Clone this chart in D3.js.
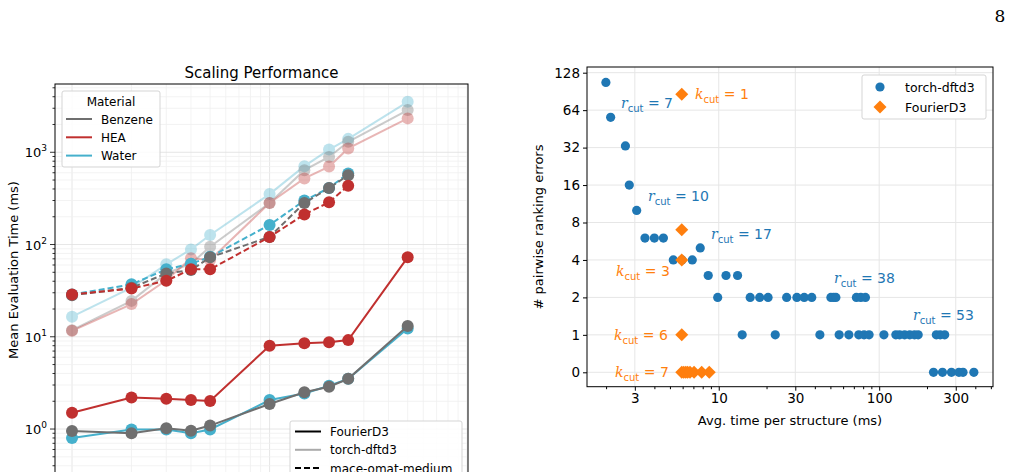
<!DOCTYPE html>
<html><head><meta charset="utf-8">
<script src="https://cdn.jsdelivr.net/npm/d3@7"></script>
<style>body{margin:0;background:#fff}text{font-family:"DejaVu Sans",sans-serif}</style>
</head><body><div id="chart"></div>
<script>
// ---- left chart data ----
var sizes = [1, 2, 3, 4, 5, 10, 15, 20, 25, 50];
var materials = ["Benzene", "HEA", "Water"];
var matColor = {Benzene: "#6f6f6f", HEA: "#c0302f", Water: "#45b0cc"};
var fourierBenzene = [0.95, 0.90, 1.02, 0.96, 1.09, 1.87, 2.5, 2.87, 3.5, 13.1];
var fourierHEA = [1.50, 2.20, 2.13, 2.06, 2.01, 8.0, 8.5, 8.7, 9.2, 72.6];
var fourierWater = [0.80, 0.99, 0.99, 0.90, 0.99, 2.06, 2.43, 2.95, 3.5, 12.3];
var torchBenzene = [11.8, 24.5, 48.6, 62, 94.5, 282, 640, 890, 1300, 2870];
var torchHEA = [11.6, 22.6, 41, 71, 68, 282, 520, 700, 1100, 2330];
var torchWater = [16.5, 34, 61, 88.5, 127, 352, 707, 1070, 1397, 3520];
var maceBenzene = [28.2, 33.9, 48.6, 52.8, 72.6, 121, 282, 410, 564];
var maceHEA = [28.8, 33.3, 40.5, 53.8, 53.8, 121, 212, 287, 434];
var maceWater = [28.8, 37, 53.8, 62, 73.5, 163, 300, 410, 590];

// ---- right chart data ----
var torchTime = [1.98, 2.12, 2.62, 2.77, 3.08, 3.47, 3.97, 4.52, 5.21, 5.9, 6.84, 7.67, 8.6, 11.1, 13.1,
  9.85, 15.7, 18.0, 20.3, 26.5, 30.7, 34.1, 38.0, 50.0, 52, 53.7, 72.1, 76.8, 82.1,
  14.0, 22.5, 42.7, 56.3, 64.7, 74.6, 80.5, 86.5, 107, 127, 134, 144, 155, 166, 175, 227, 240, 256,
  218, 248, 282, 314, 333, 389];
var torchErr = [107, 56, 33, 16, 10, 6, 6, 6, 4, 4, 4, 5, 3, 3, 3,
  2, 2, 2, 2, 2, 2, 2, 2, 2, 2, 2, 2, 2, 2,
  1, 1, 1, 1, 1, 1, 1, 1, 1, 1, 1, 1, 1, 1, 1, 1, 1, 1,
  0, 0, 0, 0, 0, 0];
var fourierTime = [5.88, 5.88, 5.88, 5.88, 5.88, 6.05, 6.23, 6.4, 6.62, 7.02, 7.83, 8.73];
var fourierErr = [86, 7, 4, 1, 0, 0, 0, 0, 0, 0, 0, 0];
var errTicks = [0, 1, 2, 4, 8, 16, 32, 64, 128];
var timeTicks = [3, 10, 30, 100, 300];

var W = 1014, H = 472;
var svg = d3.select("#chart").append("svg").attr("width", W).attr("height", H);

svg.append("text").attr("x", 1000).attr("y", 22).attr("text-anchor", "middle")
  .style("font-family", "DejaVu Serif, serif").style("font-size", "17px").text("8");

// ================= LEFT =================
var L = {l: 55, r: 468, t: 84, b: 560};
var xl = d3.scaleLog().domain([0.82, 101]).range([L.l, L.r]);
var yl = d3.scaleLog().domain([Math.pow(10, -0.7), Math.pow(10, 3.74)]).range([429 + 0.7 * 92.3, L.t]);
var gl = svg.append("g");
gl.append("defs").append("clipPath").attr("id", "cl").append("rect")
  .attr("x", L.l).attr("y", L.t).attr("width", L.r - L.l).attr("height", 500);

// grid
var xg = [];
[1, 10].forEach(function (d) { for (var k = 1; k < 10; k++) xg.push(d * k); });
xg.push(100);
gl.selectAll(".xg").data(xg).enter().append("line")
  .attr("x1", xl).attr("x2", xl).attr("y1", L.t).attr("y2", H)
  .attr("stroke", function (d) { return [1, 10, 100].indexOf(d) >= 0 ? "#e0e0e0" : "#f0f0f0"; }).attr("stroke-width", 0.8);
var yg = [];
[0.1, 1, 10, 100, 1000].forEach(function (d) { for (var k = 1; k < 10; k++) yg.push(d * k); });
yg = yg.filter(function (d) { return yl(d) >= L.t && yl(d) <= H; });
gl.selectAll(".yg").data(yg).enter().append("line")
  .attr("x1", L.l).attr("x2", L.r).attr("y1", yl).attr("y2", yl)
  .attr("stroke", function (d) { return [1, 10, 100, 1000].indexOf(d) >= 0 ? "#e0e0e0" : "#f0f0f0"; }).attr("stroke-width", 0.8);
gl.selectAll(".yt").data(yg).enter().append("line")
  .attr("x1", L.l).attr("x2", function (d) { return L.l - ([1, 10, 100, 1000].indexOf(d) >= 0 ? 5 : 2.5); })
  .attr("y1", yl).attr("y2", yl).attr("stroke", "#000").attr("stroke-width", 0.8);
[1, 10, 100, 1000].forEach(function (d, i) {
  var t = gl.append("text").attr("x", L.l - 8).attr("y", yl(d) + 5).attr("text-anchor", "end").style("font-size", "13px");
  t.append("tspan").text("10");
  t.append("tspan").attr("dy", -6).style("font-size", "9px").text(i);
});
gl.append("rect").attr("x", L.l).attr("y", L.t).attr("width", L.r - L.l).attr("height", 500)
  .attr("fill", "none").attr("stroke", "#000").attr("stroke-width", 1);

var line = d3.line().x(function (d) { return xl(d[0]); }).y(function (d) { return yl(d[1]); });
function series(vals, color, opacity, dash) {
  var pts = vals.map(function (v, i) { return [sizes[i], v]; });
  var g = gl.append("g").attr("clip-path", "url(#cl)").attr("opacity", opacity);
  g.append("path").datum(pts).attr("d", line).attr("fill", "none").attr("stroke", color)
    .attr("stroke-width", 2).attr("stroke-dasharray", dash || null);
  g.selectAll("circle").data(pts).enter().append("circle")
    .attr("cx", function (d) { return xl(d[0]); }).attr("cy", function (d) { return yl(d[1]); })
    .attr("r", 6).attr("fill", color);
}
series(torchWater, matColor.Water, 0.35);
series(torchBenzene, matColor.Benzene, 0.35);
series(torchHEA, matColor.HEA, 0.35);
series(maceWater, matColor.Water, 1, "6,3");
series(maceBenzene, matColor.Benzene, 1, "6,3");
series(maceHEA, matColor.HEA, 1, "6,3");
series(fourierHEA, matColor.HEA, 1);
series(fourierWater, matColor.Water, 1);
series(fourierBenzene, matColor.Benzene, 1);

gl.append("text").attr("x", (L.l + L.r) / 2).attr("y", 78).attr("text-anchor", "middle")
  .style("font-size", "15px").text("Scaling Performance");
gl.append("text").attr("transform", "translate(18,270) rotate(-90)").attr("text-anchor", "middle")
  .style("font-size", "13px").text("Mean Evaluation Time (ms)");

// legend: material
var lg1 = gl.append("g");
lg1.append("rect").attr("x", 62).attr("y", 91).attr("width", 98).attr("height", 76).attr("rx", 2)
  .attr("fill", "#fff").attr("fill-opacity", 0.85).attr("stroke", "#d5d5d5");
lg1.append("text").attr("x", 111).attr("y", 106).attr("text-anchor", "middle").style("font-size", "12px").text("Material");
materials.forEach(function (m, i) {
  var y = 119 + i * 18.3;
  lg1.append("line").attr("x1", 66).attr("x2", 92).attr("y1", y).attr("y2", y).attr("stroke", matColor[m]).attr("stroke-width", 2);
  lg1.append("text").attr("x", 101).attr("y", y + 4.5).style("font-size", "12px").text(m);
});
// legend: method
var methods = ["FourierD3", "torch-dftd3", "mace-omat-medium"];
var lg2 = gl.append("g");
lg2.append("rect").attr("x", 290).attr("y", 421).attr("width", 172).attr("height", 70).attr("rx", 2)
  .attr("fill", "#fff").attr("fill-opacity", 0.85).attr("stroke", "#d5d5d5");
methods.forEach(function (m, i) {
  var y = 431.5 + i * 18.3;
  lg2.append("line").attr("x1", 295).attr("x2", 321).attr("y1", y).attr("y2", y)
    .attr("stroke", i === 1 ? "#aaa" : "#000").attr("stroke-width", 2).attr("stroke-dasharray", i === 2 ? "6,3" : null);
  lg2.append("text").attr("x", 330).attr("y", y + 4.5).style("font-size", "12px").text(m);
});

// ================= RIGHT =================
var R = {l: 587, r: 993, t: 67, b: 386.7};
var xr = d3.scaleLog().domain([1.51, 512]).range([R.l, R.r]);
function tr(v) { return v <= 1 ? v : 1 + Math.log2(v); }
var yt = d3.scaleLinear().domain([0, 8]).range([372.3, 72.7]);
function yr(v) { return yt(tr(v)); }
var gr = svg.append("g");

gr.selectAll(".gx").data(timeTicks).enter().append("line")
  .attr("x1", xr).attr("x2", xr).attr("y1", R.t).attr("y2", R.b).attr("stroke", "#e6e6e6");
gr.selectAll(".gy").data(errTicks).enter().append("line")
  .attr("x1", R.l).attr("x2", R.r).attr("y1", yr).attr("y2", yr).attr("stroke", "#e6e6e6");
gr.append("rect").attr("x", R.l).attr("y", R.t).attr("width", R.r - R.l).attr("height", R.b - R.t)
  .attr("fill", "none").attr("stroke", "#000");

var xax = gr.append("g").attr("transform", "translate(0," + R.b + ")")
  .call(d3.axisBottom(xr).tickValues(timeTicks).tickFormat(d3.format("d")).tickSize(4));
var minor = [];
[1, 10, 100].forEach(function (d) { for (var k = 2; k < 10; k++) minor.push(d * k); });
minor = minor.filter(function (d) { return d > 1.51 && d < 512 && timeTicks.indexOf(d) < 0; });
gr.selectAll(".mx").data(minor).enter().append("line")
  .attr("x1", xr).attr("x2", xr).attr("y1", R.b).attr("y2", R.b + 2.5).attr("stroke", "#000");
var yax = gr.append("g").attr("transform", "translate(" + R.l + ",0)")
  .call(d3.axisLeft(yt)
    .tickValues(errTicks.map(tr)).tickFormat(function (t) { return errTicks[errTicks.map(tr).indexOf(t)]; }).tickSize(4));
[xax, yax].forEach(function (a) {
  a.select(".domain").remove();
  a.selectAll("text").style("font-size", "13.5px").style("font-family", "DejaVu Sans, sans-serif");
});

gr.append("text").attr("x", (R.l + R.r) / 2).attr("y", 425).attr("text-anchor", "middle")
  .style("font-size", "13px").text("Avg. time per structure (ms)");
gr.append("text").attr("transform", "translate(543,227) rotate(-90)").attr("text-anchor", "middle")
  .style("font-size", "13px").text("# pairwise ranking errors");

var blue = "#1f77b4", orange = "#ff7f0e";
var diamond = "M0,-6.5L6.5,0L0,6.5L-6.5,0Z";
gr.selectAll(".pt").data(torchTime).enter().append("circle")
  .attr("cx", function (d) { return xr(d); }).attr("cy", function (d, i) { return yr(torchErr[i]); })
  .attr("r", 4.6).attr("fill", blue);
gr.selectAll(".pf").data(fourierTime).enter().append("path")
  .attr("d", diamond)
  .attr("transform", function (d, i) { return "translate(" + xr(d) + "," + yr(fourierErr[i]) + ")"; })
  .attr("fill", orange);

var notes = [
  ["r", "7", 621, 108, blue], ["k", "1", 695, 99, orange], ["r", "10", 648, 201, blue],
  ["r", "17", 711, 239, blue], ["k", "3", 616, 276, orange], ["r", "38", 834, 283, blue],
  ["r", "53", 913, 320, blue], ["k", "6", 614, 340, orange], ["k", "7", 615, 377, orange]
];
notes.forEach(function (n) {
  var t = gr.append("text").attr("x", n[2]).attr("y", n[3]).attr("fill", n[4]).style("font-size", "14px");
  t.append("tspan").style("font-style", "italic").style("font-family", "DejaVu Serif, serif").text(n[0]);
  t.append("tspan").attr("dy", 4).style("font-size", "10px").text("cut");
  t.append("tspan").attr("dy", -4).text(" = " + n[1]);
});

var lg3 = gr.append("g");
lg3.append("rect").attr("x", 862).attr("y", 75).attr("width", 124).attr("height", 44).attr("rx", 2)
  .attr("fill", "#fff").attr("stroke", "#d5d5d5");
lg3.append("circle").attr("cx", 880).attr("cy", 87).attr("r", 4.6).attr("fill", blue);
lg3.append("path").attr("d", diamond).attr("transform", "translate(880,107)").attr("fill", orange);
lg3.append("text").attr("x", 905).attr("y", 91.5).style("font-size", "12.5px").text("torch-dftd3");
lg3.append("text").attr("x", 905).attr("y", 111.5).style("font-size", "12.5px").text("FourierD3");
</script></body></html>
